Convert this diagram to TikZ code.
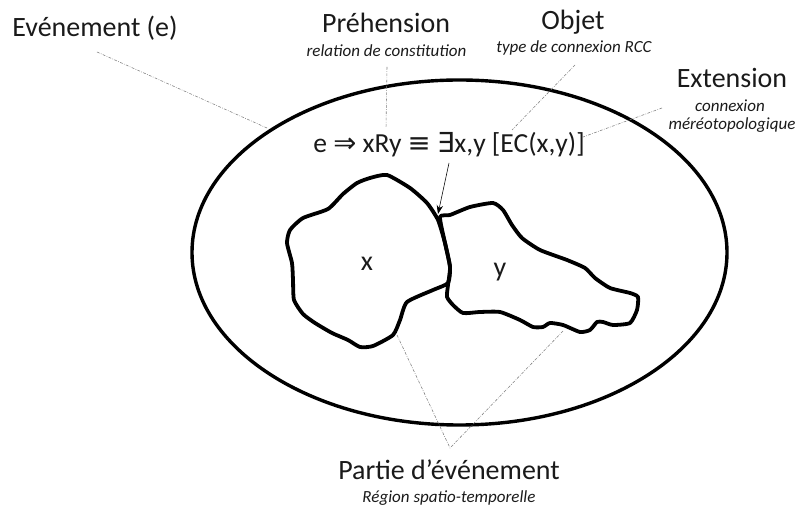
\documentclass[tikz,border=0pt]{standalone}
\usepackage{fontspec}
\setmainfont{Carlito}
\newfontfamily\symfont{DejaVu Sans}
\usepackage{xcolor}
\definecolor{cLine}{HTML}{000000}
\definecolor{cLead}{HTML}{7F7F7F}
\definecolor{cText}{HTML}{1A1A1A}
\usetikzlibrary{arrows.meta}
\tikzset{
  lbl-main/.style={text=cText,anchor=base,inner sep=0pt,
    font=\fontsize{19.9pt}{24pt}\selectfont},
  lbl-sub/.style={text=cText,anchor=base,inner sep=0pt,
    font=\fontsize{12.1pt}{14pt}\selectfont\itshape},
  lbl-rel/.style={text=cText,anchor=base,inner sep=0pt,
    font=\fontsize{19.6pt}{24pt}\selectfont},
  % contour de l'evenement et des regions
  outline/.style={draw=cLine,line width=0.85mm},
  region/.style={draw=cLine,line width=0.95mm,line join=round},
  leader/.style={draw=cLead,thin,dash pattern=on 2pt off 1pt on 0.5pt off 1pt},
  arrow/.style={-{Stealth[length=2.2mm,width=1.6mm]},thin,draw=cLine},
}

\begin{document}
\begin{tikzpicture}[x=0.25mm,y=-0.25mm]
  \useasboundingbox (0,0) rectangle (799,507);

  % evenement (e)
  \draw[outline] (459.5,252.5) ellipse [x radius=267.5,y radius=172.5];

  % region x
  \draw[region] plot[smooth cycle,tension=0.35] coordinates {
    (387,175) (410,188) (427,203) (438,220) (445,243) (450,267) (448,283)
    (433,290) (407,302) (400,320) (393,335) (373,346) (360,347) (348,340)
    (332,333) (315,323) (303,314) (294,300) (293,280) (292,263) (287,243)
    (290,230) (303,218) (328,209) (343,194) (357,183) (370,178)};
  % region y
  \draw[region] plot[smooth cycle,tension=0.35] coordinates {
    (440,217) (450,215) (470,207) (493,203) (503,210) (512,225) (522,238)
    (540,250) (567,260) (585,268) (595,278) (610,288) (630,293) (638,297)
    (637,310) (630,323) (613,325) (603,322) (597,322) (590,330) (580,332)
    (563,325) (550,323) (543,327) (533,327) (520,320) (500,312) (480,312)
    (463,313) (453,305) (447,297) (448,285) (450,267) (445,243)};
  \node[lbl-main] (lx) at (367,271) {x};
  \node[lbl-main] (ly) at (500,277) {y};

  % libelles
  \node[lbl-main] (evt) at (95,37) {Evénement (e)};
  \node[lbl-main] (preh) at (386,33) {Préhension};
  \node[lbl-sub] (preh-sub) at (386.5,57) {relation de constitution};
  \node[lbl-main] (obj) at (573,30) {Objet};
  \node[lbl-sub] (obj-sub) at (574,53) {type de connexion RCC};
  \node[lbl-main] (ext) at (732,88) {Extension};
  \node[lbl-sub] (ext-sub1) at (730,112) {connexion};
  \node[lbl-sub] (ext-sub2) at (732,130) {méréotopologique};
  \node[lbl-rel] (rel) at (449,153)
    {e {\symfont⇒} xRy {\symfont≡} {\symfont∃}x,y [EC(x,y)]};
  \node[lbl-main] (part) at (449,480) {Partie d’événement};
  \node[lbl-sub] (part-sub) at (449,503) {Région spatio-temporelle};

  % lignes de rappel
  \coordinate (evt-a) at (97,52);   \coordinate (evt-b) at (267,128);
  \coordinate (preh-a) at (387,67); \coordinate (preh-b) at (386,128);
  \coordinate (obj-a) at (575,65);  \coordinate (obj-b) at (512,130);
  \coordinate (ext-a) at (662,108); \coordinate (ext-b) at (583,137);
  \coordinate (part-x) at (397,335); \coordinate (part-y) at (564,330);
  \coordinate (part-apex) at (450,448);
  \coordinate (joint) at (438,214);
  \draw[leader] (evt-a) -- (evt-b);
  \draw[leader] (preh-a) -- (preh-b);
  \draw[leader] (obj-a) -- (obj-b);
  \draw[leader] (ext-a) -- (ext-b);
  \draw[leader] (part-x) -- (part-apex) -- (part-y);

  \draw[arrow] (449,163) -- (joint);
\end{tikzpicture}
\end{document}
